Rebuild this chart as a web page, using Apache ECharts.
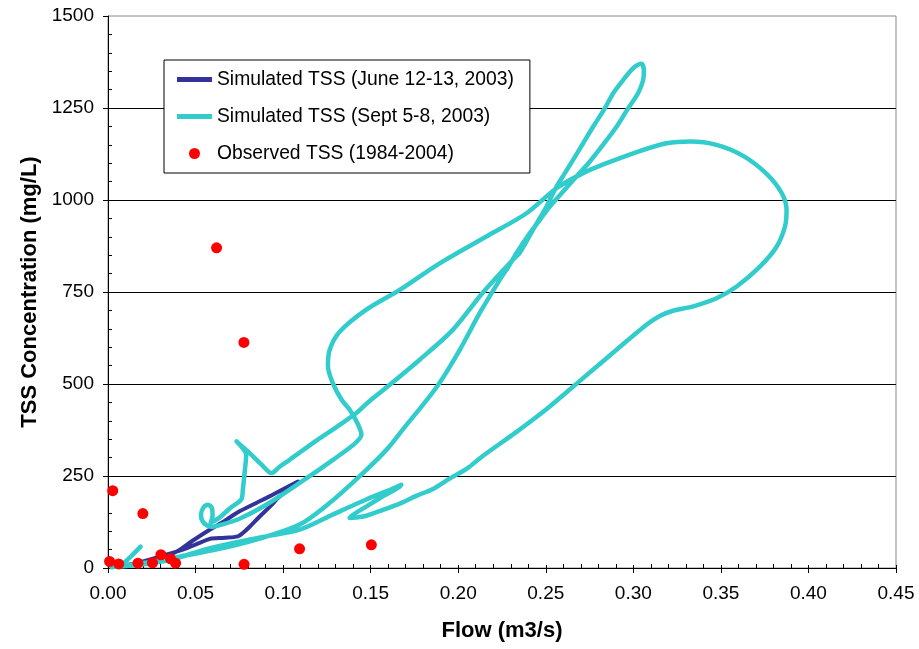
<!DOCTYPE html>
<html><head><meta charset="utf-8">
<script src="https://cdn.jsdelivr.net/npm/echarts@6/dist/echarts.min.js"></script>
<style>html,body{margin:0;padding:0;background:#fff}#c{width:919px;height:649px}</style>
</head><body><div id="c"></div>
<script>
// Axis ticks
const xTicks = [0, 0.05, 0.10, 0.15, 0.20, 0.25, 0.30, 0.35, 0.40, 0.45];
const yTicks = [0, 250, 500, 750, 1000, 1250, 1500];

// Series names
const juneName = 'Simulated TSS (June 12-13, 2003)';
const septName = 'Simulated TSS (Sept 5-8, 2003)';
const obsName = 'Observed TSS (1984-2004)';

// Simulated TSS, June 12-13, 2003 (flow m3/s, TSS mg/L), in time order
const juneFlow = [0.002, 0.0169, 0.0294, 0.039, 0.0483, 0.058, 0.0666, 0.0751, 0.0904, 0.0997, 0.1085,
  0.1037, 0.098, 0.0923, 0.0866, 0.0809, 0.077, 0.0742, 0.0666, 0.058, 0.0523, 0.0427, 0.0294, 0.0169, 0.0037];
const juneTSS = [3, 12, 28, 44, 74, 104, 128, 154, 190, 213, 235,
  215, 194, 166, 140, 112, 95, 86, 82, 79, 68, 50, 31, 14, 4];

// Simulated TSS, Sept 5-8, 2003, in time order
const septFlow = [0.0186, 0.0134, 0.0089, 0.0043, 0.0169, 0.0363, 0.0551, 0.074, 0.0894, 0.1094,
  0.1283, 0.1475, 0.1637, 0.1675, 0.1654, 0.157, 0.1475, 0.1391, 0.138, 0.1414,
  0.1475, 0.157, 0.1666, 0.1761, 0.1856, 0.1951, 0.2049, 0.2142, 0.2333, 0.2523,
  0.2713, 0.2904, 0.3075, 0.3151, 0.3227, 0.3342, 0.3475, 0.359, 0.3723, 0.3818,
  0.3866, 0.3875, 0.3847, 0.3761, 0.3627, 0.3475, 0.3323, 0.319, 0.3037, 0.2847,
  0.2713, 0.2561, 0.239, 0.2161, 0.1894, 0.1666, 0.1475, 0.1323, 0.1266, 0.1256,
  0.1285, 0.1334, 0.138, 0.1426, 0.1447, 0.1409, 0.1285, 0.1094, 0.0894, 0.0751,
  0.0649, 0.0591, 0.0546, 0.0531, 0.0546, 0.0571, 0.0594, 0.0597, 0.0586, 0.0637,
  0.07, 0.0761, 0.077, 0.078, 0.0789, 0.0763, 0.0734, 0.0809, 0.0877, 0.0933,
  0.098, 0.1037, 0.119, 0.1323, 0.1418, 0.1494, 0.1609, 0.178, 0.1969, 0.214,
  0.2311, 0.2351, 0.2427, 0.2504, 0.2561, 0.2609, 0.2656, 0.2713, 0.277, 0.2837,
  0.2885, 0.2942, 0.2999, 0.3047, 0.306, 0.3056, 0.3027, 0.297, 0.2904, 0.2827,
  0.2751, 0.2675, 0.2599, 0.2523, 0.2466, 0.2409, 0.2333, 0.2283, 0.2237, 0.2123,
  0.2009, 0.1877, 0.1683, 0.159, 0.1456, 0.1266, 0.1094, 0.0866, 0.0637, 0.0409,
  0.018, 0.002];
const septTSS = [58, 33, 14, 4, 8, 23, 50, 71, 85, 104,
  145, 186, 218, 226, 217, 195, 167, 142, 136, 137,
  142, 158, 175, 196, 215, 243, 270, 305, 370, 439,
  516, 593, 661, 685, 699, 711, 733, 765, 819, 873,
  928, 973, 1019, 1071, 1120, 1150, 1159, 1154, 1133, 1100,
  1073, 1032, 964, 901, 828, 756, 702, 642, 593, 548,
  501, 457, 430, 392, 362, 338, 294, 231, 169, 134,
  118, 112, 123, 145, 165, 172, 162, 142, 123, 137,
  164, 186, 213, 259, 308, 329, 344, 312, 281, 258,
  275, 294, 346, 389, 421, 454, 498, 566, 647, 748,
  837, 856, 919, 982, 1036, 1073, 1109, 1154, 1199, 1249,
  1290, 1326, 1358, 1370, 1353, 1326, 1290, 1249, 1199, 1150,
  1104, 1064, 1023, 982, 946, 910, 856, 816, 783, 693,
  593, 492, 376, 321, 258, 177, 118, 80, 52, 31,
  12, 2];

// Observed TSS (1984-2004)
const obsFlow = [0.0027, 0.0199, 0.0009, 0.0061, 0.0171, 0.0254, 0.0302, 0.0357, 0.0386, 0.0777, 0.1094, 0.1504, 0.0776, 0.062];
const obsTSS = [210, 148, 18, 11, 13, 14, 36, 25, 13, 10, 52, 63, 613, 870];

const zip = (a, b) => a.map((v, i) => [v, b[i]]);
const FONT = '"Liberation Sans", Arial, sans-serif';

const xMin = xTicks[0], xMax = xTicks[xTicks.length - 1], xInt = xTicks[1] - xTicks[0];
const yMin = yTicks[0], yMax = yTicks[yTicks.length - 1], yInt = yTicks[1] - yTicks[0];

const chart = echarts.init(document.getElementById('c'), null, {renderer: 'canvas'});
chart.setOption({
  animation: false,
  backgroundColor: '#fff',
  textStyle: {fontFamily: FONT},
  grid: {left: 108, right: 23, top: 16, bottom: 81, show: true, borderColor: '#888', borderWidth: 1,
         backgroundColor: 'transparent', containLabel: false, outerBoundsMode: 'none'},
  legend: {
    orient: 'vertical', left: 164, top: 60,
    padding: [9, 16, 9, 13],
    itemWidth: 35, itemHeight: 11, itemGap: 16,
    borderColor: '#000', borderWidth: 1, backgroundColor: '#fff',
    textStyle: {fontFamily: FONT, fontSize: 19.3, color: '#000', lineHeight: 21},
    data: [
      {name: juneName, icon: 'path://M0,0H35V5H0Z'},
      {name: septName, icon: 'path://M0,0H35V5H0Z'},
      {name: obsName, icon: 'circle', itemStyle: {opacity: 1}}
    ]
  },
  xAxis: [{
    type: 'value', min: xMin, max: xMax, interval: xInt, position: 'bottom',
    axisLine: {onZero: false, lineStyle: {color: '#000', width: 1}},
    axisTick: {show: true, length: 5, lineStyle: {color: '#000'}},
    minorTick: {show: false},
    axisLabel: {margin: 16, fontSize: 19, color: '#000', fontFamily: FONT, formatter: v => v.toFixed(2)},
    splitLine: {show: false},
    name: 'Flow (m3/s)', nameLocation: 'middle', nameGap: 52,
    nameTextStyle: {fontSize: 22, fontWeight: 'bold', color: '#000', fontFamily: FONT}
  }, {
    type: 'value', min: xMin, max: xMax, interval: xInt, position: 'bottom', offset: 0,
    axisLine: {show: false, onZero: false},
    axisTick: {show: true, inside: true, length: 3, lineStyle: {color: '#000'}},
    minorTick: {show: true, splitNumber: 5, length: 4, lineStyle: {color: '#000'}},
    axisLabel: {show: false}, splitLine: {show: false}
  }],
  yAxis: [{
    type: 'value', min: yMin, max: yMax, interval: yInt, position: 'left',
    axisLine: {onZero: false, lineStyle: {color: '#000', width: 1}},
    axisTick: {show: true, length: 5, lineStyle: {color: '#000'}},
    minorTick: {show: false},
    axisLabel: {margin: 14, fontSize: 19, color: '#000', fontFamily: FONT, formatter: v => String(v)},
    splitLine: {show: true, showMinLine: false, showMaxLine: false, lineStyle: {color: '#000', width: 1}},
    name: 'TSS Concentration (mg/L)', nameLocation: 'middle', nameGap: 67, nameRotate: 90,
    nameTextStyle: {fontSize: 22, fontWeight: 'bold', color: '#000', fontFamily: FONT}
  }, {
    type: 'value', min: yMin, max: yMax, interval: yInt, position: 'left', offset: 0,
    axisLine: {show: false, onZero: false},
    axisTick: {show: false, inside: true, length: 4},
    minorTick: {show: true, splitNumber: 5, length: 4, lineStyle: {color: '#000'}},
    axisLabel: {show: false}, splitLine: {show: false}
  }],
  series: [{
    name: juneName, type: 'line', xAxisIndex: 0, yAxisIndex: 0,
    data: zip(juneFlow, juneTSS), symbol: 'none', smooth: 0.3, z: 2,
    lineStyle: {color: '#333399', width: 4, join: 'round', cap: 'round'},
    itemStyle: {color: '#333399'}
  }, {
    name: septName, type: 'line', xAxisIndex: 0, yAxisIndex: 0,
    data: zip(septFlow, septTSS), symbol: 'none', smooth: 0.3, z: 3,
    lineStyle: {color: '#33CCCC', width: 4.5, join: 'round', cap: 'round'},
    itemStyle: {color: '#33CCCC'}
  }, {
    name: obsName, type: 'scatter', xAxisIndex: 0, yAxisIndex: 0,
    data: zip(obsFlow, obsTSS), symbol: 'circle', symbolSize: 11, z: 4,
    itemStyle: {color: '#FF0000', opacity: 1}
  }]
});
</script>
</body></html>
